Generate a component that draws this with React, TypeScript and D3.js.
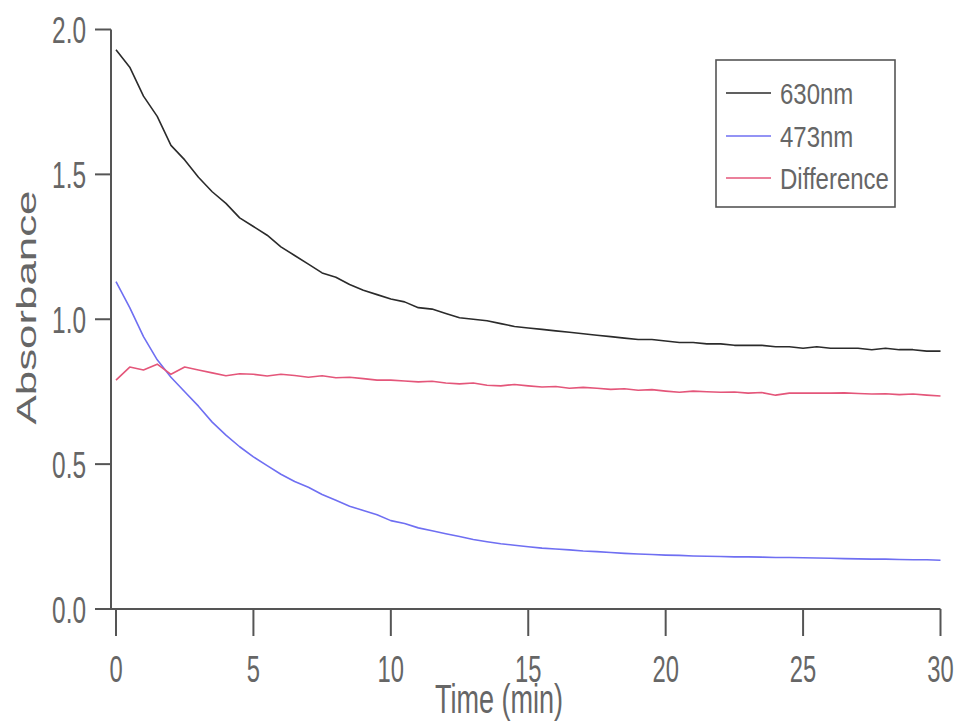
import React from "react";
import * as d3 from "d3";

// Sampling times in minutes (every 30 s)
const times: number[] = [
  0, 0.5, 1, 1.5, 2, 2.5, 3, 3.5, 4, 4.5, 5, 5.5, 6, 6.5, 7, 7.5, 8, 8.5, 9, 9.5,
  10, 10.5, 11, 11.5, 12, 12.5, 13, 13.5, 14, 14.5, 15, 15.5, 16, 16.5, 17, 17.5,
  18, 18.5, 19, 19.5, 20, 20.5, 21, 21.5, 22, 22.5, 23, 23.5, 24, 24.5, 25, 25.5,
  26, 26.5, 27, 27.5, 28, 28.5, 29, 29.5, 30,
];

// Absorbance at 630 nm
const abs630: number[] = [
  1.93, 1.87, 1.77, 1.7, 1.6, 1.55, 1.49, 1.44, 1.4, 1.35, 1.32, 1.29, 1.25, 1.22,
  1.19, 1.16, 1.145, 1.12, 1.1, 1.085, 1.07, 1.06, 1.04, 1.035, 1.02, 1.005, 1.0,
  0.995, 0.985, 0.975, 0.97, 0.965, 0.96, 0.955, 0.95, 0.945, 0.94, 0.935, 0.93,
  0.93, 0.925, 0.92, 0.92, 0.915, 0.915, 0.91, 0.91, 0.91, 0.905, 0.905, 0.9,
  0.905, 0.9, 0.9, 0.9, 0.895, 0.9, 0.895, 0.895, 0.89, 0.89,
];

// Absorbance at 473 nm
const abs473: number[] = [
  1.13, 1.04, 0.94, 0.86, 0.8, 0.75, 0.7, 0.645, 0.6, 0.56, 0.525, 0.495, 0.465,
  0.44, 0.42, 0.395, 0.375, 0.355, 0.34, 0.325, 0.305, 0.295, 0.28, 0.27, 0.26,
  0.25, 0.24, 0.232, 0.225, 0.22, 0.215, 0.21, 0.207, 0.204, 0.2, 0.198, 0.195,
  0.192, 0.19, 0.188, 0.186, 0.185, 0.183, 0.182, 0.181, 0.18, 0.18, 0.179, 0.178,
  0.178, 0.177, 0.176, 0.175, 0.174, 0.173, 0.172, 0.172, 0.171, 0.17, 0.17, 0.168,
];

// Difference trace
const absDiff: number[] = [
  0.79, 0.835, 0.825, 0.845, 0.81, 0.835, 0.825, 0.815, 0.805, 0.812, 0.81, 0.804,
  0.81, 0.806, 0.8, 0.805, 0.798, 0.8, 0.795, 0.79, 0.79, 0.787, 0.784, 0.786,
  0.78, 0.777, 0.78, 0.772, 0.77, 0.775, 0.77, 0.766, 0.768, 0.762, 0.765, 0.762,
  0.758, 0.76, 0.755, 0.757, 0.752, 0.748, 0.752, 0.75, 0.748, 0.749, 0.745,
  0.747, 0.738, 0.745, 0.745, 0.745, 0.745, 0.746, 0.744, 0.742, 0.743, 0.74,
  0.742, 0.738, 0.735,
];

const seriesNames = ["630nm", "473nm", "Difference"];
const seriesColors = ["#2b2b2b", "#6f6ff2", "#e4567a"];
const seriesValues = [abs630, abs473, absDiff];

const xTicks = [0, 5, 10, 15, 20, 25, 30];
const yTicks = [0, 0.5, 1, 1.5, 2];

const AXIS = "#555";
const TEXT = "#666";

function Narrow(props: {
  x: number;
  y: number;
  sx: number;
  size: number;
  anchor: "start" | "middle" | "end";
  children: React.ReactNode;
}) {
  const { x, y, sx, size, anchor, children } = props;
  return (
    <text
      transform={`translate(${x},${y}) scale(${sx},1)`}
      textAnchor={anchor}
      fontSize={size}
      fontFamily="'Liberation Sans', Arial, sans-serif"
      fill={TEXT}
    >
      {children}
    </text>
  );
}

export default function App() {
  const width = 957;
  const height = 723;

  const x = d3.scaleLinear().domain([0, 30]).range([116, 940.5]);
  const y = d3.scaleLinear().domain([0, 2]).range([609, 29.5]);
  const axisLeft = 111;

  const line = d3
    .line<number>()
    .x((_, i) => x(times[i]))
    .y((d) => y(d));

  const legendX = 716;
  const legendY = 60;
  const legendRows = [93, 136, 178];

  return (
    <svg
      width={width}
      height={height}
      style={{ position: "absolute", left: 0, top: 0, background: "#fff" }}
    >
      {/* data traces */}
      {seriesValues.map((vals, i) => (
        <path
          key={seriesNames[i]}
          d={line(vals) ?? ""}
          fill="none"
          stroke={seriesColors[i]}
          strokeWidth={1.6}
          strokeLinejoin="round"
        />
      ))}

      {/* y axis */}
      <line x1={axisLeft} x2={axisLeft} y1={y(2)} y2={y(0) + 1} stroke={AXIS} strokeWidth={2} />
      {yTicks.map((t) => (
        <g key={t}>
          <line x1={95} x2={axisLeft} y1={y(t)} y2={y(t)} stroke={AXIS} strokeWidth={2} />
          <Narrow x={86} y={y(t) + 13.5} sx={0.66} size={37} anchor="end">
            {t.toFixed(1)}
          </Narrow>
        </g>
      ))}

      {/* x axis */}
      <line x1={axisLeft} x2={x(30)} y1={y(0)} y2={y(0)} stroke={AXIS} strokeWidth={2} />
      {xTicks.map((t) => (
        <g key={t}>
          <line x1={x(t)} x2={x(t)} y1={y(0)} y2={y(0) + 27} stroke={AXIS} strokeWidth={2} />
          <Narrow x={x(t)} y={682} sx={0.66} size={36} anchor="middle">
            {t}
          </Narrow>
        </g>
      ))}

      {/* axis titles */}
      <Narrow x={499} y={713} sx={0.66} size={41} anchor="middle">
        Time (min)
      </Narrow>
      <text
        transform={`translate(36,${(190 + 425) / 2}) rotate(-90)`}
        textAnchor="middle"
        fontSize={28}
        fontFamily="'Liberation Sans', Arial, sans-serif"
        fill={TEXT}
        textLength={234}
        lengthAdjust="spacingAndGlyphs"
      >
        Absorbance
      </text>

      {/* legend */}
      <rect
        x={legendX}
        y={legendY}
        width={179}
        height={147}
        fill="#fff"
        stroke={AXIS}
        strokeWidth={1.6}
      />
      {seriesNames.map((name, i) => (
        <g key={name}>
          <line
            x1={726}
            x2={771}
            y1={legendRows[i]}
            y2={legendRows[i]}
            stroke={seriesColors[i]}
            strokeWidth={1.6}
          />
          <Narrow x={780} y={legendRows[i] + 11} sx={0.8} size={30} anchor="start">
            {name}
          </Narrow>
        </g>
      ))}
    </svg>
  );
}
